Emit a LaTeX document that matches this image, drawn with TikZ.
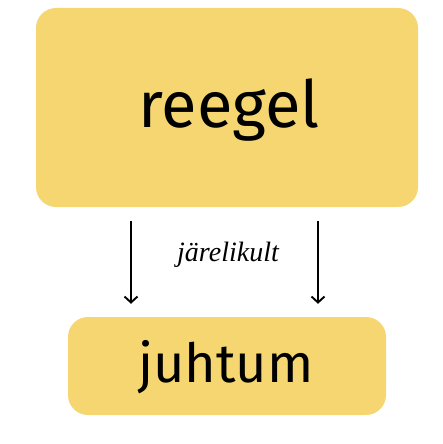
\documentclass[tikz,border=0pt]{standalone}
\usepackage{fontspec}
\setmainfont{Fira Sans}
\newfontfamily\labelfont{Liberation Serif}
\usetikzlibrary{arrows.meta}
\definecolor{boxyellow}{RGB}{245,214,112}
\begin{document}
\begin{tikzpicture}[x=1pt,y=-1pt,
  yellowbox/.style={fill=boxyellow,draw=none,rounded corners=20pt,inner sep=0pt},
  flowarrow/.style={line width=1.9pt,-{Straight Barb[length=6pt,width=13pt,line width=1.9pt]}},
  bigtext/.style={anchor=base,inner sep=0pt}
]
\useasboundingbox (0,0) rectangle (443,444);
\node[yellowbox,minimum width=382pt,minimum height=199pt] (top) at (227,107.5) {};
\node[yellowbox,minimum width=318pt,minimum height=98pt] (bot) at (227,366) {};
\node[bigtext,font=\fontsize{65}{70}\selectfont] (reegel) at (229,127) {reegel};
\node[bigtext,font=\fontsize{54}{60}\selectfont] (juhtum) at (226,382) {juhtum};
\node[bigtext,font=\labelfont\itshape\fontsize{28}{32}\selectfont] (lbl) at (228,261) {järelikult};
\coordinate (L) at (131,0);
\coordinate (R) at (318,0);
\draw[flowarrow,shorten <=14pt,shorten >=13pt] (top.south -| L) -- (bot.north -| L);
\draw[flowarrow,shorten <=14pt,shorten >=13pt] (top.south -| R) -- (bot.north -| R);
\end{tikzpicture}
\end{document}
